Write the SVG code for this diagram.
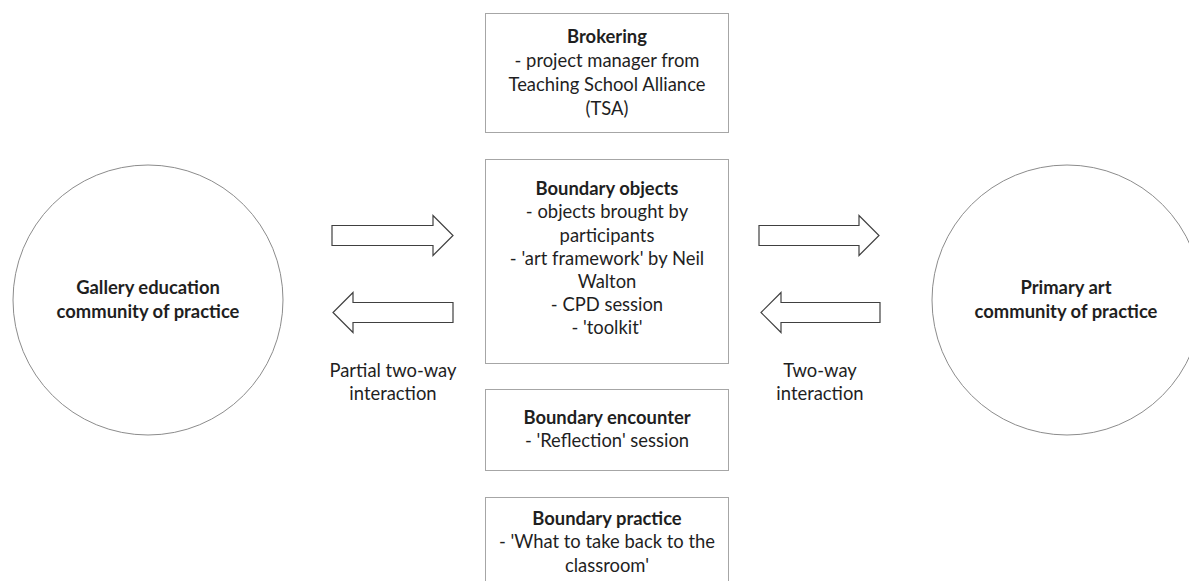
<svg xmlns="http://www.w3.org/2000/svg" width="1189" height="581" viewBox="0 0 1189 581">
<style>
text{font-family:Lato,"Noto Sans","Liberation Sans",sans-serif;font-size:18.4px;fill:#1f1f1f;text-anchor:middle}
.b{font-weight:bold}
.box{fill:#fff;stroke:#a6a6a6;stroke-width:1}
.circ{fill:#fff;stroke:#8c8c8c;stroke-width:1}
.arr{fill:#fff;stroke:#404040;stroke-width:1.2;stroke-linejoin:miter}
</style>
<rect width="1189" height="581" fill="#fff"/>
<g id="gallery">
<circle class="circ" cx="148" cy="300" r="135"/>
<text class="b" x="148" y="294">Gallery education</text>
<text class="b" x="148" y="318">community of practice</text>
</g>
<g id="primary">
<circle class="circ" cx="1067" cy="300" r="135"/>
<text class="b" x="1066" y="294">Primary art</text>
<text class="b" x="1066" y="318">community of practice</text>
</g>
<g id="brokering">
<rect class="box" x="485.5" y="13.5" width="243" height="119"/>
<text class="b" x="607" y="43">Brokering</text>
<text x="607" y="67">- project manager from</text>
<text x="607" y="91">Teaching School Alliance</text>
<text x="607" y="115">(TSA)</text>
</g>
<g id="objects">
<rect class="box" x="485.5" y="159.5" width="243" height="204"/>
<text class="b" x="607" y="195">Boundary objects</text>
<text x="607" y="218">- objects brought by</text>
<text x="607" y="242">participants</text>
<text x="607" y="265">- 'art framework' by Neil</text>
<text x="607" y="288">Walton</text>
<text x="607" y="311">- CPD session</text>
<text x="607" y="334">- 'toolkit'</text>
</g>
<g id="encounter">
<rect class="box" x="485.5" y="389.5" width="243" height="81"/>
<text class="b" x="607" y="424">Boundary encounter</text>
<text x="607" y="447">- 'Reflection' session</text>
</g>
<g id="practice">
<rect class="box" x="485.5" y="497.5" width="243" height="90"/>
<text class="b" x="607" y="525">Boundary practice</text>
<text x="607" y="548">- 'What to take back to the</text>
<text x="607" y="572">classroom'</text>
</g>
<g id="connectors">
<path class="arr" d="M332,225.5 H433 V215.5 L453,235.5 L433,255.5 V245.5 H332 Z"/>
<path class="arr" d="M453,302.5 H353 V292.5 L333,312.5 L353,332.5 V322.5 H453 Z"/>
<path class="arr" d="M759,225.5 H859 V215.5 L879,235.5 L859,255.5 V245.5 H759 Z"/>
<path class="arr" d="M880,302.5 H781 V292.5 L761,312.5 L781,332.5 V322.5 H880 Z"/>
<text x="393" y="377">Partial two-way</text>
<text x="393" y="400">interaction</text>
<text x="820" y="377">Two-way</text>
<text x="820" y="400">interaction</text>
</g>
</svg>
